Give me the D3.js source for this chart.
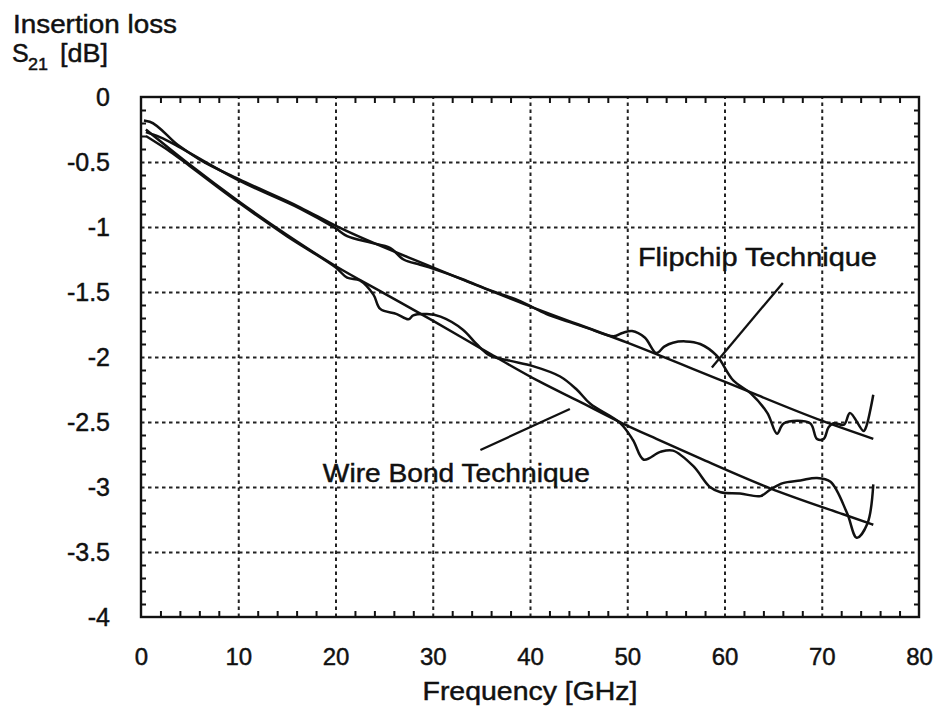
<!DOCTYPE html>
<html><head><meta charset="utf-8">
<script src="https://cdn.jsdelivr.net/npm/d3@7"></script>
<style>
html,body{margin:0;padding:0;background:#fff;}
svg text{font-family:"Liberation Sans",Arial,Helvetica,sans-serif;fill:#111;stroke:#111;stroke-width:0.45px;}
</style></head>
<body>
<svg id="chart" width="937" height="716"></svg>
<script>
// ---- data ----
const xTickValues = [0,10,20,30,40,50,60,70,80];
const xTickLabels = ["0","10","20","30","40","50","60","70","80"];
const yTickValues = [0,-0.5,-1,-1.5,-2,-2.5,-3,-3.5,-4];
const yTickLabels = ["0","-0.5","-1","-1.5","-2","-2.5","-3","-3.5","-4"];

// Flipchip technique, smooth (simulated) line
const flipSimF = [0.3,0.9,3.8,6,10,16.4,20,30,40,50,60,70,75.3];
const flipSimV = [-0.18,-0.19,-0.37,-0.48,-0.63,-0.85,-0.99,-1.31,-1.61,-1.89,-2.19,-2.49,-2.63];
// Flipchip technique, measured
const flipMeasF = [0.5,2,3.8,10,16.4,20,21.2,23.6,25.6,27,28.7,30,33,36,39,41.7,44,46,48.6,49.5,50.5,51.8,53,53.8,54.7,56,57.5,59.2,60.9,62.7,64.4,65.4,66.1,68.8,69.5,70.2,70.7,71.2,72.3,72.9,74.3,74.6,75.3];
const flipMeasV = [-0.27,-0.31,-0.38,-0.64,-0.86,-1.01,-1.07,-1.12,-1.16,-1.25,-1.29,-1.32,-1.40,-1.49,-1.57,-1.67,-1.73,-1.78,-1.84,-1.815,-1.80,-1.85,-1.97,-1.92,-1.89,-1.88,-1.90,-1.99,-2.18,-2.28,-2.43,-2.59,-2.51,-2.51,-2.63,-2.63,-2.54,-2.51,-2.52,-2.43,-2.57,-2.53,-2.29];
// Wire bond technique, smooth (simulated) line
const wireSimF = [0.5,5,10,15,20,25,30,36,41,45,49.5,53,57.5,64.7,72.2,75.3];
const wireSimV = [-0.25,-0.52,-0.80,-1.06,-1.30,-1.51,-1.72,-1.98,-2.19,-2.34,-2.51,-2.63,-2.78,-3.01,-3.21,-3.29];
// Wire bond technique, measured
const wireMeasF = [0.5,3,5,10,15,20,21.2,22.5,23.9,24.6,26.3,27.5,28,29.4,30.8,33.1,34.5,35.9,38,40.3,43.1,44.8,46.2,49.3,50.6,51.7,53.4,54.7,56.8,58.5,59.6,61.6,63.7,64.7,66,67.8,69.5,70.9,72.6,73.6,74.7,75.3];
const wireMeasV = [-0.30,-0.42,-0.53,-0.81,-1.07,-1.31,-1.39,-1.41,-1.52,-1.63,-1.67,-1.71,-1.68,-1.67,-1.69,-1.79,-1.90,-1.99,-2.03,-2.07,-2.15,-2.25,-2.36,-2.51,-2.64,-2.79,-2.73,-2.72,-2.84,-3.0,-3.04,-3.05,-3.07,-3.02,-2.97,-2.95,-2.93,-2.96,-3.2,-3.39,-3.28,-2.98];

// annotation labels and pointer lines (data coordinates)
const annoLabels = ["Flipchip Technique","Wire Bond Technique"];
const annoTextF = [51.1, 18.7];
const annoTextV = [-1.3, -2.96];
const annoLineF1 = [66.0, 34.9];
const annoLineV1 = [-1.43, -2.715];
const annoLineF2 = [58.7, 44.1];
const annoLineV2 = [-2.08, -2.40];

// ---- drawing ----
const svg = d3.select("#chart");
const L = 141, R = 919, T = 97, B = 617;
const x = d3.scaleLinear().domain([0,80]).range([L,R]);
const y = d3.scaleLinear().domain([0,-4]).range([T,B]);

// gridlines
const gx = svg.append("g").attr("transform",`translate(0,${B})`)
  .call(d3.axisBottom(x).tickValues([10,20,30,40,50,60,70]).tickSize(-(B-T)).tickFormat(""));
const gy = svg.append("g").attr("transform",`translate(${L},0)`)
  .call(d3.axisLeft(y).tickValues([-0.5,-1,-1.5,-2,-2.5,-3,-3.5]).tickSize(-(R-L)).tickFormat(""));
[gx,gy].forEach(g=>{
  g.select(".domain").remove();
  g.selectAll("line").attr("stroke","#222").attr("stroke-width",2).attr("stroke-dasharray","3.5,3.5");
});

// minor ticks
const minorX = d3.range(2,80,2).filter(v=>v%10!==0);
const minorY = d3.range(1,40).map(i=>-i/10).filter((v,i)=>(i+1)%5!==0);
function minor(axis, tr){
  const g = svg.append("g").attr("transform",tr).call(axis);
  g.select(".domain").remove();
  g.selectAll("line").attr("stroke","#111").attr("stroke-width",2);
}
minor(d3.axisBottom(x).tickValues(minorX).tickSize(-6).tickFormat(""),`translate(0,${B})`);
minor(d3.axisTop(x).tickValues(minorX).tickSize(-6).tickFormat(""),`translate(0,${T})`);
minor(d3.axisLeft(y).tickValues(minorY).tickSize(-5).tickFormat(""),`translate(${L},0)`);
minor(d3.axisRight(y).tickValues(minorY).tickSize(-5).tickFormat(""),`translate(${R},0)`);

// frame
svg.append("rect").attr("x",L).attr("y",T).attr("width",R-L).attr("height",B-T)
  .attr("fill","none").attr("stroke","#111").attr("stroke-width",2.4);

// tick labels
const ax = svg.append("g").attr("transform",`translate(0,${B})`)
  .call(d3.axisBottom(x).tickValues(xTickValues).tickSize(0).tickPadding(31)
    .tickFormat((d,i)=>xTickLabels[i]));
ax.select(".domain").remove();
ax.selectAll("text").attr("font-size",24).attr("font-family","Liberation Sans, Arial, sans-serif").attr("fill","#111");
const ay = svg.append("g").attr("transform",`translate(${L},0)`)
  .call(d3.axisLeft(y).tickValues(yTickValues).tickSize(0).tickPadding(31)
    .tickFormat((d,i)=>yTickLabels[i]));
ay.select(".domain").remove();
ay.selectAll("text").attr("font-size",25).attr("font-family","Liberation Sans, Arial, sans-serif").attr("fill","#111");

// curves
function series(F,V){ return F.map((f,i)=>[f,V[i]]); }
const simLine = d3.line().x(d=>x(d[0])).y(d=>y(d[1])).curve(d3.curveMonotoneX);
const measLine = d3.line().x(d=>x(d[0])).y(d=>y(d[1])).curve(d3.curveCatmullRom.alpha(0.5));
[[flipSimF,flipSimV,simLine],[wireSimF,wireSimV,simLine],[flipMeasF,flipMeasV,measLine],[wireMeasF,wireMeasV,measLine]].forEach(([F,V,gen])=>{
  svg.append("path").datum(series(F,V)).attr("d",gen)
    .attr("fill","none").attr("stroke","#111").attr("stroke-width",2.5).attr("stroke-linejoin","round");
});

// annotations
annoLabels.forEach((lab,i)=>{
  svg.append("line").attr("x1",x(annoLineF1[i])).attr("y1",y(annoLineV1[i]))
    .attr("x2",x(annoLineF2[i])).attr("y2",y(annoLineV2[i]))
    .attr("stroke","#111").attr("stroke-width",2.3);
  svg.append("text").attr("x",x(annoTextF[i])).attr("y",y(annoTextV[i]))
    .attr("font-size",25).text(lab)
    .attr("textLength", i===0?239:267).attr("lengthAdjust","spacingAndGlyphs");
});

// axis titles
svg.append("text").attr("x",530).attr("y",700).attr("text-anchor","middle")
  .attr("font-size",25).attr("textLength",215).attr("lengthAdjust","spacingAndGlyphs").text("Frequency [GHz]");
svg.append("text").attr("x",13).attr("y",33).attr("font-size",25)
  .attr("textLength",164).attr("lengthAdjust","spacingAndGlyphs").text("Insertion loss");
svg.append("text").attr("x",12).attr("y",62).attr("font-size",25).text("S");
svg.append("text").attr("x",28).attr("y",70).attr("font-size",17)
  .attr("textLength",20).attr("lengthAdjust","spacingAndGlyphs").text("21");
svg.append("text").attr("x",60).attr("y",62).attr("font-size",26)
  .attr("textLength",48).attr("lengthAdjust","spacingAndGlyphs").text("[dB]");
</script>
</body></html>
